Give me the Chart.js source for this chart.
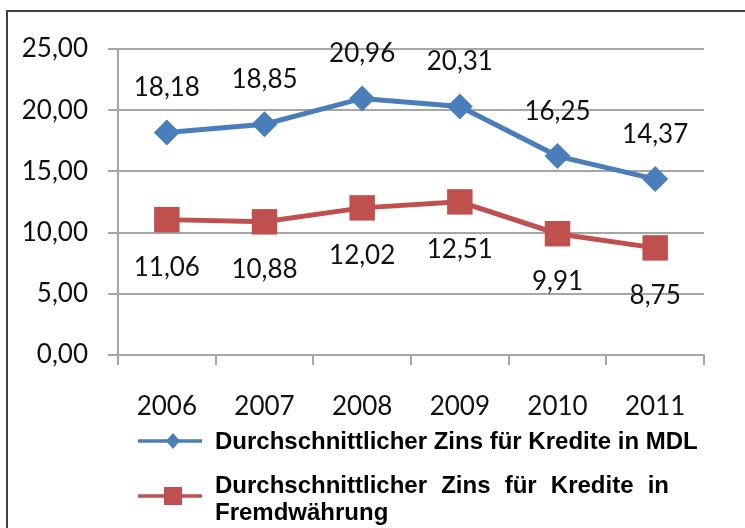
<!DOCTYPE html>
<html>
<head>
<meta charset="utf-8">
<script src="https://cdn.jsdelivr.net/npm/chart.js@4"></script>
<style>
  body { margin: 0; background: #fff; }
  #wrap { width: 745px; height: 528px; }
</style>
</head>
<body>
<div id="wrap"><canvas id="chart" width="745" height="528"></canvas></div>
<script>
// Daten
const years = ['2006', '2007', '2008', '2009', '2010', '2011'];
const zinsMDL = [18.18, 18.85, 20.96, 20.31, 16.25, 14.37];
const zinsFremd = [11.06, 10.88, 12.02, 12.51, 9.91, 8.75];
const legendMDL = ['Durchschnittlicher Zins für Kredite in MDL'];
const legendFremd = ['Durchschnittlicher Zins für Kredite in', 'Fremdwährung'];

const BLUE = '#4a7ebb';
const RED = '#c0504d';
const GRID = '#a6a6a6';
const labelFont = '26px Lato, "Open Sans", sans-serif';

const fmt = v => v.toFixed(2).replace('.', ',');

// Rahmen oben und links
const framePlugin = {
  id: 'frame',
  beforeDraw(chart) {
    const ctx = chart.ctx;
    ctx.save();
    ctx.fillStyle = '#fff';
    ctx.fillRect(0, 0, chart.width, chart.height);
    ctx.strokeStyle = '#404040';
    ctx.lineWidth = 2;
    ctx.beginPath();
    ctx.moveTo(7, chart.height);
    ctx.lineTo(7, 11);
    ctx.lineTo(chart.width, 11);
    ctx.stroke();
    ctx.restore();
  }
};

// Werte über / unter den Punkten
const valueLabels = {
  id: 'valueLabels',
  afterDatasetsDraw(chart) {
    const ctx = chart.ctx;
    ctx.save();
    ctx.font = labelFont;
    ctx.fillStyle = '#111';
    ctx.textAlign = 'center';
    ctx.textBaseline = 'alphabetic';
    chart.data.datasets.forEach((ds, i) => {
      const above = i === 0;
      chart.getDatasetMeta(i).data.forEach((pt, j) => {
        const y = above ? pt.y - 36 : pt.y + 56;
        ctx.fillText(fmt(ds.data[j]), pt.x, y);
      });
    });
    ctx.restore();
  }
};

// Legende unten, zweite Zeile im Blocksatz
function drawJustified(ctx, text, x, y, width) {
  const words = text.split(' ');
  const wordsW = words.reduce((s, w) => s + ctx.measureText(w).width, 0);
  const gap = (width - wordsW) / (words.length - 1);
  let cx = x;
  words.forEach(w => {
    ctx.fillText(w, cx, y);
    cx += ctx.measureText(w).width + gap;
  });
}

const legendPlugin = {
  id: 'customLegend',
  afterDraw(chart) {
    const ctx = chart.ctx;
    const items = [
      { lines: legendMDL, color: BLUE, style: 'diamond', y: 441, base: 449 },
      { lines: legendFremd, color: RED, style: 'square', y: 496, base: 493 }
    ];
    ctx.save();
    items.forEach(it => {
      ctx.strokeStyle = it.color;
      ctx.fillStyle = it.color;
      ctx.lineWidth = 3.5;
      ctx.beginPath();
      ctx.moveTo(138, it.y);
      ctx.lineTo(202, it.y);
      ctx.stroke();
      ctx.beginPath();
      if (it.style === 'diamond') {
        ctx.moveTo(173, it.y - 8);
        ctx.lineTo(180, it.y);
        ctx.lineTo(173, it.y + 8);
        ctx.lineTo(166, it.y);
        ctx.closePath();
        ctx.fill();
      } else {
        ctx.fillRect(164, it.y - 9, 18, 18);
      }
      ctx.fillStyle = '#000';
      ctx.font = 'bold 24px "Liberation Sans", Arial, sans-serif';
      ctx.textAlign = 'left';
      ctx.textBaseline = 'alphabetic';
      it.lines.forEach((line, k) => {
        const by = it.base + k * 27;
        if (it.lines.length > 1 && k === 0) {
          drawJustified(ctx, line, 215, by, 454);
        } else {
          ctx.fillText(line, 215, by);
        }
      });
    });
    ctx.restore();
  }
};

new Chart(document.getElementById('chart'), {
  type: 'line',
  data: {
    labels: years,
    datasets: [
      {
        label: legendMDL.join(' '),
        data: zinsMDL,
        borderColor: BLUE,
        backgroundColor: BLUE,
        borderWidth: 5,
        pointStyle: 'rectRot',
        pointRadius: 13,
        pointBorderWidth: 0,
        tension: 0
      },
      {
        label: legendFremd.join(' '),
        data: zinsFremd,
        borderColor: RED,
        backgroundColor: RED,
        borderWidth: 5,
        pointStyle: 'rect',
        pointRadius: 18,
        pointBorderWidth: 0,
        tension: 0
      }
    ]
  },
  options: {
    responsive: false,
    animation: false,
    devicePixelRatio: 1,
    layout: { padding: { top: 49, right: 41, left: 0, bottom: 0 } },
    plugins: {
      legend: { display: false },
      tooltip: { enabled: false }
    },
    scales: {
      y: {
        min: 0,
        max: 25,
        ticks: {
          stepSize: 5,
          padding: 20,
          color: '#111',
          font: { family: 'Lato', size: 26 },
          callback: v => fmt(v)
        },
        grid: { color: GRID, lineWidth: 2, tickLength: 10 },
        border: { color: GRID, width: 2 },
        afterFit: s => { s.width = 118; }
      },
      x: {
        offset: true,
        ticks: {
          padding: 26,
          color: '#111',
          font: { family: 'Lato', size: 26 }
        },
        grid: { offset: true, drawOnChartArea: false, color: GRID, lineWidth: 2, tickLength: 10 },
        border: { color: GRID, width: 2 },
        afterFit: s => { s.height = 173; }
      }
    }
  },
  plugins: [framePlugin, valueLabels, legendPlugin]
});
</script>
</body>
</html>
